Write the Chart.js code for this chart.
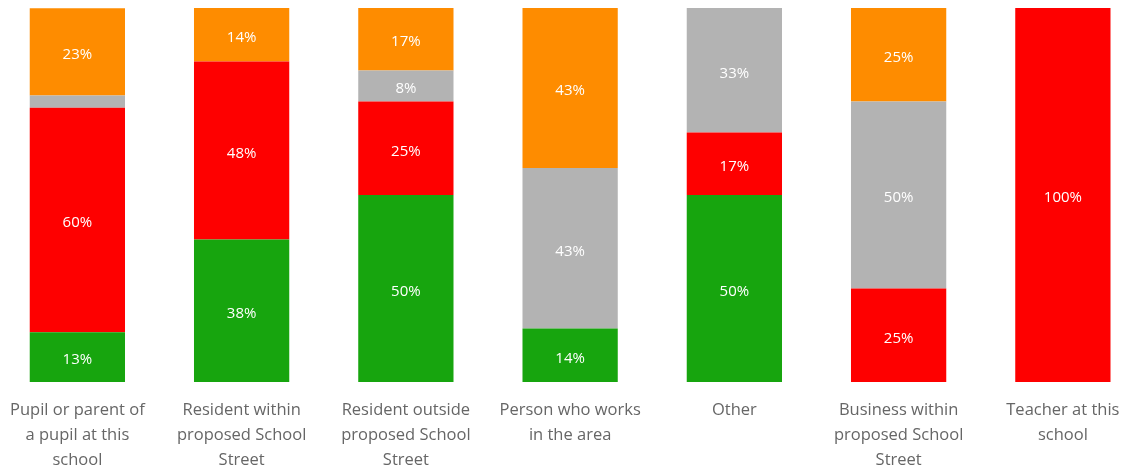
<!DOCTYPE html>
<html>
<head>
<meta charset="utf-8">
<script src="https://cdn.jsdelivr.net/npm/chart.js@4"></script>
<style>
html,body{margin:0;padding:0;background:#fff;overflow:hidden;}
#wrap{position:absolute;left:-6px;top:0;width:1151px;height:470px;}
</style>
</head>
<body>
<div id="wrap"><canvas id="c"></canvas></div>
<script>
const categories = [
  ["Pupil or parent of","a pupil at this","school"],
  ["Resident within","proposed School","Street"],
  ["Resident outside","proposed School","Street"],
  ["Person who works","in the area"],
  ["Other"],
  ["Business within","proposed School","Street"],
  ["Teacher at this","school"]
];
const seriesNames = ["Green","Red","Grey","Orange"];
const greenValues  = [13.3, 38.1, 50.0, 14.3, 50.0, 0, 0];
const redValues    = [60.0, 47.6, 25.0, 0, 16.7, 25.0, 100];
const greyValues   = [3.3, 0, 8.3, 42.9, 33.3, 50.0, 0];
const orangeValues = [23.3, 14.3, 16.7, 42.9, 0, 25.0, 0];
const colors = ["#17a50e", "#fe0000", "#b3b3b3", "#fe8c00"];

const labelPlugin = {
  id: 'segLabels',
  afterDatasetsDraw(chart) {
    const ctx = chart.ctx;
    ctx.save();
    ctx.fillStyle = '#ffffff';
    ctx.font = '15px "Open Sans", "Noto Sans", sans-serif';
    ctx.textAlign = 'center';
    ctx.textBaseline = 'middle';
    chart.data.datasets.forEach((ds, i) => {
      const meta = chart.getDatasetMeta(i);
      meta.data.forEach((bar, j) => {
        const v = ds.data[j];
        if (!v || v < 5) return;
        const p = bar.getProps(['x','y','base'], true);
        ctx.fillText(Math.round(v) + '%', p.x, (p.y + p.base) / 2 + 3);
      });
    });
    ctx.restore();
  }
};

const allSeries = [greenValues, redValues, greyValues, orangeValues];
new Chart(document.getElementById('c'), {
  type: 'bar',
  data: {
    labels: categories,
    datasets: allSeries.map((d, i) => ({
      label: seriesNames[i],
      data: d,
      backgroundColor: colors[i],
      borderWidth: 0,
      categoryPercentage: 1,
      barPercentage: 0.58
    }))
  },
  options: {
    responsive: true,
    maintainAspectRatio: false,
    animation: false,
    layout: { padding: { top: 8, left: 0, right: 0, bottom: 0 } },
    plugins: { legend: { display: false }, tooltip: { enabled: false } },
    scales: {
      x: {
        stacked: true,
        grid: { display: false, drawTicks: false },
        border: { display: false },
        afterFit(scale) { scale.height = 88; },
        ticks: {
          padding: 16,
          maxRotation: 0,
          autoSkip: false,
          color: '#666666',
          font: { family: '"Open Sans", "Noto Sans", sans-serif', size: 16.5, lineHeight: 1.515 }
        }
      },
      y: {
        stacked: true,
        display: false,
        min: 0,
        max: 100
      }
    }
  },
  plugins: [labelPlugin]
});
</script>
</body>
</html>
